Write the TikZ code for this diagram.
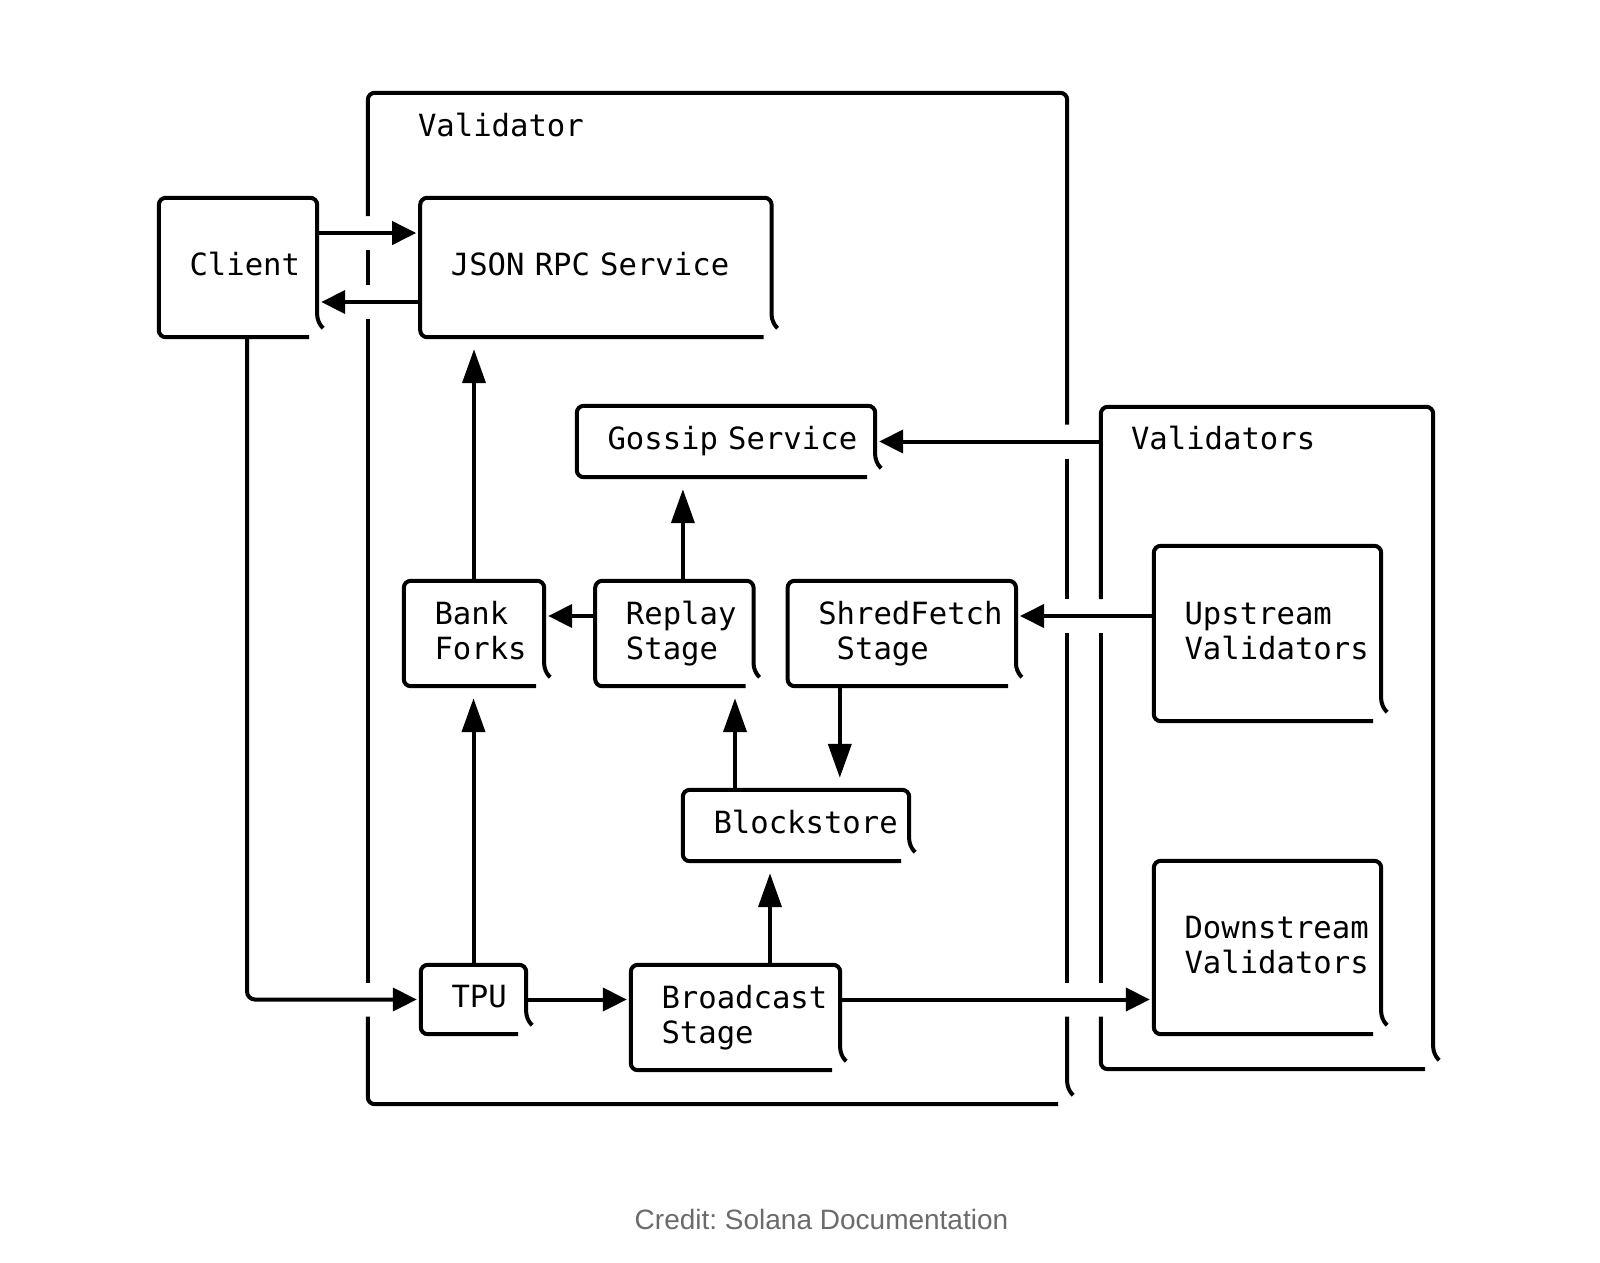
\documentclass[tikz,border=0pt]{standalone}
\usepackage{fontspec}
\usepackage{xcolor}
\usepackage{tikz}
\usetikzlibrary{positioning, arrows.meta}
\newfontfamily\bobfont[HyphenChar=None]{DejaVu Sans Mono}
\newfontfamily\creditfont{Liberation Sans}
\definecolor{creditgray}{RGB}{107,107,107}
\frenchspacing

\tikzset{
	stage/.style 2 args={minimum width=#1pt, minimum height=#2pt, inner xsep=30.5pt, inner ysep=0pt,
		/utils/exec={\pgfmathsetlengthmacro\bobtw{#1-61}}, text width=\bobtw, align=left,
		font=\bobfont\fontsize{30.6}{35}\selectfont, text height=23pt, text depth=7pt},
	twoline/.style={text depth=42pt},
	frame/.style 2 args={minimum width=#1pt, minimum height=#2pt, inner sep=0pt},
	title/.style={font=\bobfont\fontsize{30.6}{35}\selectfont, inner sep=0pt},
	outline/.style={line width=4pt, rounded corners=7pt},
	harrow/.style={-{Triangle[length=24pt, width=23pt]}, line width=4pt, shorten >=4pt},
	varrow/.style={-{Triangle[length=34pt, width=23pt]}, line width=4pt, shorten >=12pt},
}

\begin{document}
\begin{tikzpicture}[x=1pt, y=-1pt]
		\fill[white] (0,0) rectangle (1600,1262);
		\useasboundingbox (0,0) rectangle (1600,1262);

		%Frames
		\node[frame={699}{1011}]   (validator)    at (717.5,598.5)   {};
		\node[frame={332}{662}]    (validators)   at (1267,738)      {};
		\node[title, anchor=base west] (validatorname)  at ([xshift=50pt, yshift=-44pt]validator.north west)  {Validator};
		\node[title, anchor=base west] (validatorsname) at ([xshift=30pt, yshift=-43pt]validators.north west) {Validators};

		%Nodes
		\node[stage={158}{139}]            (client)       at (238,267.5)      {Client};
		\node[stage={351}{139}]            (rpc)          [right=103pt of client] {JSON~RPC~Service};
		\node[stage={298}{71}]             (gossip)       at (726,441.5)      {Gossip~Service};
		\node[stage={140}{105}, twoline]   (bank)         at (474,633.5)      {Bank\\Forks};
		\node[stage={158}{105}, twoline]   (replay)       [right=51pt of bank]   {Replay\\Stage};
		\node[stage={228}{105}, twoline]   (shred)        [right=34pt of replay] {ShredFetch\\\phantom{S}Stage};
		\node[stage={227}{175}, twoline]   (upstream)     at (1267.5,633.5)   {Upstream\\Validators};
		\node[stage={226}{71}]             (blockstore)   at (796,825.5)      {Blockstore};
		\node[stage={105}{69}]             (tpu)          at (473.5,999.5)    {TPU};
		\node[stage={209}{105}, twoline]   (broadcast)    at (735.5,1017.5)   {Broadcast\\Stage};
		\node[stage={227}{173}, twoline]   (downstream)   at (1267.5,947.5)   {Downstream\\Validators};

		\coordinate (req)   at ([yshift=34.5pt]client.east);
		\coordinate (resp)  at ([yshift=-34.5pt]client.east);
		\coordinate (fetch) at ([yshift=17.5pt]upstream.west);

		%Boxes
		\foreach \n in {client,rpc,gossip,bank,replay,shred,upstream,blockstore,tpu,broadcast,downstream}
			\draw[outline] ([xshift=-8pt]\n.south east) -- (\n.south west) -- (\n.north west) -- (\n.north east) -- ([yshift=15pt]\n.south east) -- ++(6pt,-6pt);

		\draw[outline] ([yshift=17pt]validator.west |- req) -- (validator.north west) -- (validator.north east) -- ([yshift=17pt]validator.east |- gossip.east);
		\draw[outline] ([yshift=-17pt]validator.west |- req) -- ([yshift=17pt]validator.west |- resp);
		\draw[outline] ([yshift=-17pt]validator.west |- resp) -- ([yshift=17pt]validator.west |- tpu.west);
		\draw[outline] ([yshift=-17pt]validator.west |- tpu.west) -- (validator.south west) -- ([xshift=-9pt]validator.south east);
		\draw[outline] ([yshift=-17pt]validator.east |- gossip.east) -- ([yshift=17pt]validator.east |- fetch);
		\draw[outline] ([yshift=-17pt]validator.east |- fetch) -- ([yshift=17pt]validator.east |- tpu.east);
		\draw[outline] ([yshift=-17pt]validator.east |- tpu.east) -- ([yshift=15pt]validator.south east) -- ++(6pt,-6pt);

		\draw[outline] ([yshift=17pt]validators.west |- fetch) -- (validators.north west) -- (validators.north east) -- ([yshift=15pt]validators.south east) -- ++(6pt,-6pt);
		\draw[outline] ([yshift=-17pt]validators.west |- fetch) -- ([yshift=17pt]validators.west |- tpu.east);
		\draw[outline] ([yshift=-17pt]validators.west |- tpu.east) -- (validators.south west) -- ([xshift=-8pt]validators.south east);

		%Lines
		\draw[harrow] (req) -- (req -| rpc.west);
		\draw[harrow] (resp -| rpc.west) -- (resp);
		\draw[harrow, rounded corners=8pt] ([xshift=9pt]client.south) |- (tpu.west);
		\draw[varrow] (bank.north) -- (bank.north |- rpc.south);
		\draw[varrow] ([xshift=8.5pt]replay.north) -- ([xshift=8.5pt]replay.north |- gossip.south);
		\draw[harrow] ([yshift=17.5pt]replay.west) -- ([yshift=17.5pt]replay.west -| bank.east);
		\draw[harrow] (validators.west |- gossip.east) -- (gossip.east);
		\draw[harrow] (fetch) -- (fetch -| shred.east);
		\draw[varrow] ([xshift=-62pt]shred.south) -- ([xshift=-62pt]shred.south |- blockstore.north);
		\draw[varrow] ([xshift=-61pt]blockstore.north) -- ([xshift=-61pt]blockstore.north |- replay.south);
		\draw[varrow] (tpu.north) -- (tpu.north |- bank.south);
		\draw[varrow] ([xshift=34.5pt]broadcast.north) -- ([xshift=34.5pt]broadcast.north |- blockstore.south);
		\draw[harrow] (tpu.east) -- (tpu.east -| broadcast.west);
		\draw[harrow] (tpu.east -| broadcast.east) -- (tpu.east -| downstream.west);

		%Credit
		\node[font=\creditfont\fontsize{28}{33}\selectfont, text=creditgray, inner sep=0pt, anchor=base] (credit) at (821.5,1229) {Credit: Solana Documentation};
\end{tikzpicture}
\end{document}
